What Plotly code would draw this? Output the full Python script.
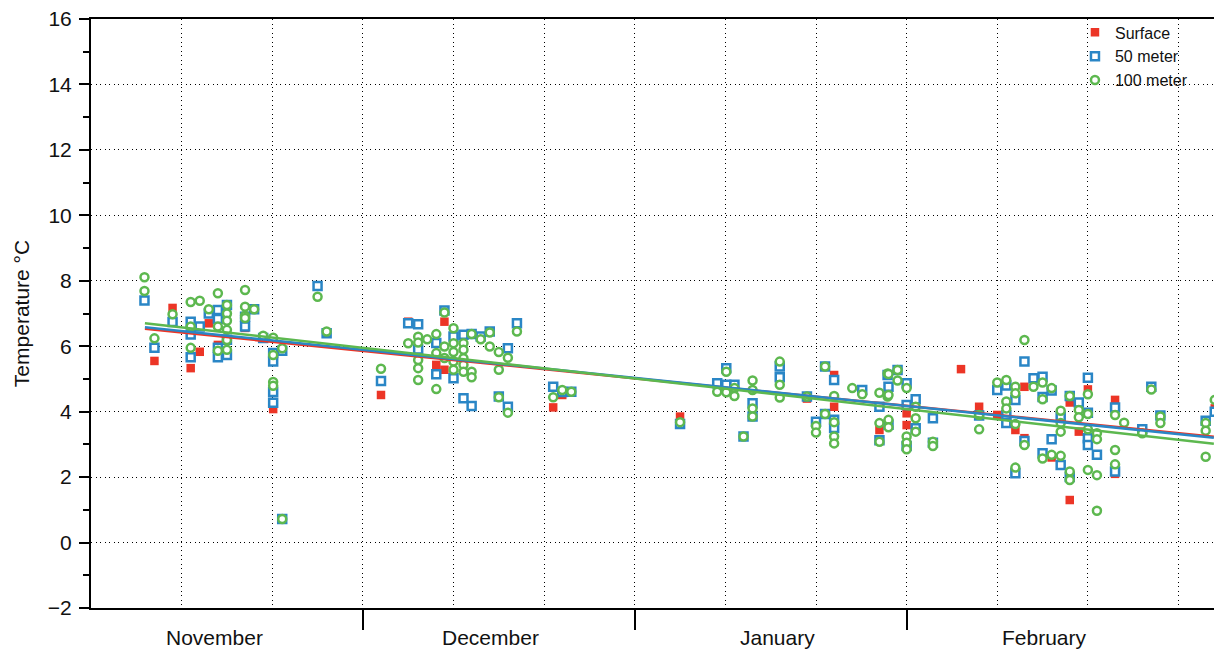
import plotly.graph_objects as go

# ---------------- data (days since 1 November, temperature in °C) ----------------
surface_day = [5.9, 7.0, 9.0, 11.0, 12.0, 13.0, 14.0, 15.0, 17.0, 20.1, 21.1, 25.0,
               32.0, 35.0, 38.1, 39.0, 39.0, 51.0, 52.0, 65.0, 79.0, 82.0, 82.0,
               87.0, 90.0, 90.0, 96.0, 98.0, 100.0, 102.0, 103.0, 103.0, 106.0,
               108.0, 108.0, 109.0, 110.0, 113.0, 113.0, 124.0]
surface_temp = [7.40, 5.55, 7.17, 5.33, 5.83, 6.70, 6.04, 7.26, 6.56, 4.08, 0.72, 7.84,
                4.51, 6.75, 5.43, 6.75, 5.28, 4.13, 4.51, 3.85, 4.40, 5.12, 4.15,
                3.44, 3.95, 3.59, 5.30, 4.15, 3.90, 3.44, 4.76, 3.19, 2.60,
                4.28, 1.30, 3.39, 4.68, 4.36, 2.10, 4.10]

m50_day = [5.9, 7.0, 9.0, 11.0, 11.0, 11.0, 12.0, 13.0, 14.0, 14.0, 14.0, 14.0,
           15.0, 15.0, 15.0, 17.0, 17.0, 18.0, 19.0, 20.1, 20.1, 20.1, 20.1, 21.1,
           21.1, 25.0, 26.0,
           32.0, 35.0, 36.1, 36.1, 38.1, 38.1, 39.0, 40.0, 40.0, 41.1, 41.1, 42.0,
           42.0, 43.0, 44.0, 45.0, 46.0, 46.0, 47.0, 51.0, 52.0, 53.0, 65.0,
           69.1, 70.1, 70.1, 71.0, 72.0, 73.0, 73.0, 76.0, 76.0, 79.0, 80.0, 81.0,
           81.0, 82.0, 82.0, 82.0, 85.1, 87.0, 87.0, 87.9, 88.0, 88.0, 89.0, 90.0,
           90.0, 90.0, 91.0, 91.0, 92.9, 92.9,
           98.0, 100.0, 101.0, 101.0, 101.0, 102.0, 102.0, 103.0, 103.0, 104.0,
           105.0, 105.0, 105.0, 106.0, 106.0, 107.0, 107.0, 108.0, 108.0, 109.0,
           110.0, 110.0, 110.0, 110.0, 111.0, 113.0, 113.0, 116.0, 117.0, 118.0,
           123.0, 124.0]
m50_temp = [7.40, 5.95, 6.74, 6.75, 6.36, 5.66, 6.60, 7.00, 7.11, 6.83, 5.95, 5.66,
            7.26, 5.73, 6.20, 6.60, 6.90, 7.13, 6.25, 5.79, 5.53, 4.60, 4.27, 5.86,
            0.72, 7.84, 6.40,
            4.94, 6.70, 6.67, 5.90, 5.14, 6.10, 7.09, 5.02, 6.30, 6.35, 4.41, 6.37,
            4.17, 6.30, 6.45, 4.46, 5.94, 4.15, 6.70, 4.76, 4.60, 4.61, 3.62,
            4.87, 5.33, 4.82, 4.82, 3.24, 4.26, 3.85, 5.38, 5.05, 4.46, 3.69, 5.38,
            3.93, 4.97, 3.75, 3.50, 4.66, 4.15, 3.13, 5.12, 4.76, 3.60, 5.27, 4.87,
            4.20, 2.95, 4.38, 3.49, 3.80, 3.05,
            3.88, 4.66, 4.80, 3.90, 3.65, 4.36, 2.12, 5.53, 3.10, 5.02,
            5.07, 4.45, 2.73, 4.65, 3.16, 2.37, 3.85, 4.48, 2.00, 4.28,
            5.04, 3.97, 3.19, 2.98, 2.68, 4.13, 2.17, 3.46, 4.76, 3.88,
            3.72, 4.00]

m100_day = [5.9, 5.9, 7.0, 9.0, 11.0, 11.0, 11.0, 12.0, 13.0, 14.0, 14.0, 14.0,
            15.0, 15.0, 15.0, 15.0, 15.0, 15.0, 17.0, 17.0, 17.0, 17.0, 18.0, 19.0,
            20.1, 20.1, 20.1, 20.1, 21.1, 21.1, 25.0, 26.0,
            32.0, 35.0, 36.1, 36.1, 36.1, 36.1, 36.1, 37.1, 38.1, 38.1, 38.1, 39.0,
            39.0, 39.0, 40.0, 40.0, 40.0, 40.0, 40.0, 41.1, 41.1, 41.1, 41.1, 41.1,
            42.0, 42.0, 42.0, 43.0, 44.0, 44.0, 45.0, 45.0, 45.0, 46.0, 46.0, 47.0,
            51.0, 52.0, 53.0, 65.0,
            69.1, 70.1, 70.1, 71.0, 71.0, 72.0, 73.0, 73.0, 73.0, 73.0, 76.0, 76.0,
            76.0, 79.0, 80.0, 80.0, 81.0, 81.0, 82.0, 82.0, 82.0, 82.0, 84.0, 85.1,
            87.0, 87.0, 87.0, 87.9, 87.9, 88.0, 88.0, 88.0, 88.0, 89.0, 89.0, 90.0,
            90.0, 90.0, 90.0, 91.0, 91.0, 91.0, 92.9, 92.9,
            98.0, 98.0, 100.0, 101.0, 101.0, 101.0, 102.0, 102.0, 102.0, 102.0,
            103.0, 103.0, 104.0, 105.0, 105.0, 105.0, 106.0, 106.0, 107.0, 107.0,
            107.0, 107.0, 108.0, 108.0, 108.0, 109.0, 109.0, 110.0, 110.0, 110.0,
            110.0, 111.0, 111.0, 111.0, 111.0, 113.0, 113.0, 113.0, 114.0, 116.0,
            117.0, 118.0, 118.0, 123.0, 123.0, 123.0, 124.0]
m100_temp = [8.11, 7.69, 6.24, 6.98, 7.35, 6.60, 5.95, 7.39, 7.13, 7.62, 6.60, 5.86,
             7.26, 7.00, 6.78, 6.50, 6.19, 5.89, 7.72, 7.21, 6.93, 6.86, 7.13, 6.32,
             6.26, 5.73, 4.91, 4.79, 5.94, 0.72, 7.51, 6.45,
             5.31, 6.09, 6.29, 6.11, 5.58, 5.33, 4.97, 6.21, 6.37, 5.79, 4.69, 7.03,
             5.99, 5.64, 6.55, 6.09, 5.82, 5.53, 5.28, 6.09, 5.89, 5.63, 5.43, 5.22,
             6.37, 5.22, 5.05, 6.21, 6.42, 5.99, 5.82, 5.28, 4.44, 5.65, 3.97, 6.45,
             4.44, 4.66, 4.61, 3.68,
             4.61, 5.22, 4.59, 4.72, 4.48, 3.24, 4.95, 4.66, 4.10, 3.85, 5.53, 4.82,
             4.43, 4.46, 3.56, 3.36, 5.38, 3.93, 4.48, 3.68, 3.24, 3.03, 4.72, 4.53,
             4.58, 3.65, 3.08, 5.17, 4.46, 5.15, 4.51, 3.75, 3.52, 5.27, 4.95, 4.72,
             3.24, 3.05, 2.85, 4.15, 3.80, 3.39, 3.08, 2.95,
             3.90, 3.46, 4.89, 4.97, 4.31, 4.10, 4.76, 4.56, 3.62, 2.29,
             6.19, 2.98, 4.76, 4.89, 4.38, 2.57, 4.72, 2.68, 4.03, 3.65,
             3.39, 2.65, 4.48, 2.17, 1.91, 4.05, 3.83, 4.53, 3.93, 3.46,
             2.22, 3.34, 3.16, 2.06, 0.97, 3.90, 2.83, 2.39, 3.66, 3.34,
             4.68, 3.85, 3.65, 3.65, 3.42, 2.62, 4.36]

# linear trend lines (start / end values)
trend_day = [5.95, 123.9]
surface_trend = [6.53, 3.23]
m50_trend = [6.58, 3.20]
m100_trend = [6.70, 3.02]

months = ["November", "December", "January", "February"]
month_label_day = [13.6, 44.1, 75.8, 105.2]
month_boundary_day = [30, 60, 90]

RED = "#EC3526"
BLUE = "#2A86C6"
GREEN = "#5DB84F"
FONT = "Liberation Sans, Arial, Helvetica, sans-serif"

fig = go.Figure()
fig.add_trace(go.Scatter(x=surface_day, y=surface_temp, mode="markers", name="Surface",
                         marker=dict(symbol="square", size=8.5, color=RED, line=dict(width=0))))
fig.add_trace(go.Scatter(x=m50_day, y=m50_temp, mode="markers", name="50 meter",
                         marker=dict(symbol="square", size=8, color="white",
                                     line=dict(color=BLUE, width=2.5))))
fig.add_trace(go.Scatter(x=m100_day, y=m100_temp, mode="markers", name="100 meter",
                         marker=dict(symbol="circle", size=8, color="white",
                                     line=dict(color=GREEN, width=2.5))))
for tr, col in [(surface_trend, RED), (m50_trend, BLUE), (m100_trend, GREEN)]:
    fig.add_trace(go.Scatter(x=trend_day, y=tr, mode="lines", showlegend=False,
                             line=dict(color=col, width=2.5), hoverinfo="skip"))

for name, d in zip(months, month_label_day):
    fig.add_annotation(x=d, y=0, xref="x", yref="paper", yanchor="top", yshift=-16,
                       text=name, showarrow=False, font=dict(size=21, color="#111", family=FONT))

DOT = "1px,3.5px"
# the page body has an 8px margin; the figure is sized so that it ends at the window edge
fig.update_layout(
    width=1214, height=643,
    margin=dict(l=83, r=0, t=11, b=43),
    paper_bgcolor="white", plot_bgcolor="white",
    font=dict(family=FONT, size=21, color="#111"),
    showlegend=True,
    legend=dict(x=0.870, y=1.006, xanchor="left", yanchor="top",
                bgcolor="rgba(0,0,0,0)", font=dict(size=16, family=FONT),
                itemsizing="trace", tracegroupgap=0),
    xaxis=dict(range=[0, 124.8], showline=True, linecolor="black", linewidth=2,
               mirror=True, tickmode="array", tickvals=month_boundary_day,
               ticktext=["", "", ""], ticks="outside", ticklen=20, tickwidth=2,
               tickcolor="black", showgrid=True, gridcolor="black", gridwidth=1,
               griddash=DOT, zeroline=False,
               minor=dict(dtick=10, tick0=0, showgrid=True, gridcolor="black",
                          gridwidth=1, griddash=DOT, ticks="")),
    yaxis=dict(range=[-2, 16], showline=True, linecolor="black", linewidth=2,
               tickmode="linear", tick0=-2, dtick=2, ticks="outside", ticklen=10,
               tickwidth=2, tickcolor="black", showgrid=True, gridcolor="black",
               gridwidth=1, griddash=DOT, zeroline=False,
               tickfont=dict(size=21), ticklabelstandoff=3, ticklabeloverflow="allow",
               title=dict(text="Temperature °C", font=dict(size=21), standoff=12),
               minor=dict(dtick=1, ticks="outside", ticklen=6, tickwidth=2,
                          tickcolor="black", showgrid=False)),
)
fig.write_html("out.html")
